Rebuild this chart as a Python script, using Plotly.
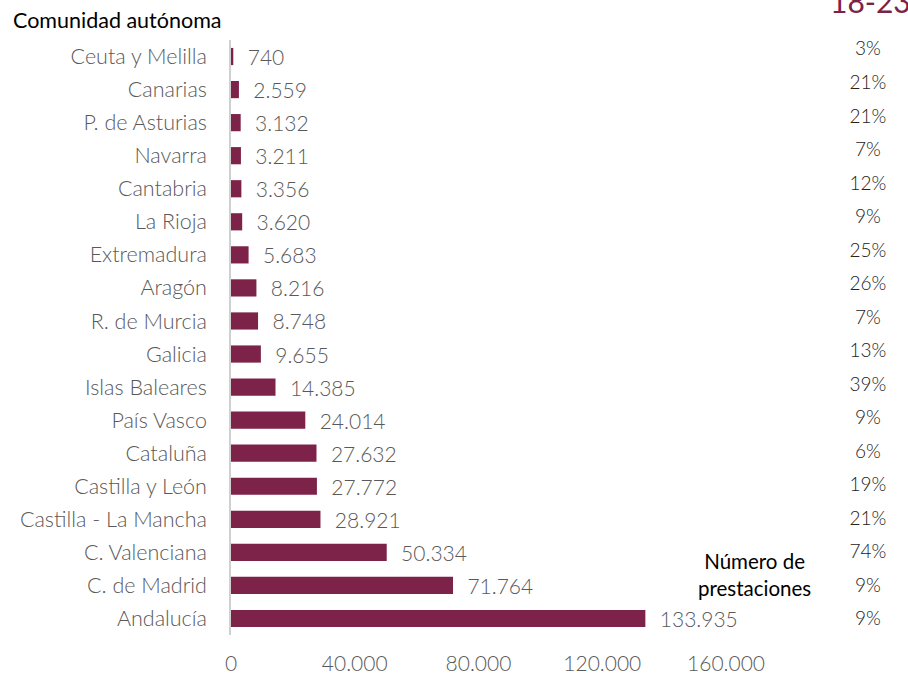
import plotly.graph_objects as go

comunidades = ["Ceuta y Melilla", "Canarias", "P. de Asturias", "Navarra", "Cantabria",
               "La Rioja", "Extremadura", "Aragón", "R. de Murcia", "Galicia",
               "Islas Baleares", "País Vasco", "Cataluña", "Castilla y León",
               "Castilla - La Mancha", "C. Valenciana", "C. de Madrid", "Andalucía"]
prestaciones = [740, 2559, 3132, 3211, 3356, 3620, 5683, 8216, 8748, 9655,
                14385, 24014, 27632, 27772, 28921, 50334, 71764, 133935]
variacion = ["3%", "21%", "21%", "7%", "12%", "9%", "25%", "26%", "7%", "13%",
             "39%", "9%", "6%", "19%", "21%", "74%", "9%", "9%"]
x_ticks = [0, 40000, 80000, 120000, 160000]

BAR = "#7D2248"
GRAY = "#595959"
FONT = "Lato"

def fmt(v):
    return f"{v:,}".replace(",", ".")

fig = go.Figure()
fig.add_trace(go.Bar(
    y=comunidades, x=prestaciones, orientation="h",
    marker=dict(color=BAR, line=dict(width=0)),
    text=["  " + fmt(v) for v in prestaciones], textposition="outside",
    constraintext="none",
    textfont=dict(family=FONT, size=21, color=GRAY, weight=300),
    cliponaxis=False, width=0.52, showlegend=False,
))
fig.add_trace(go.Scatter(
    x=[0.5] * len(variacion), y=comunidades, mode="text", text=variacion,
    textfont=dict(family=FONT, size=19, color="#222222", weight=300),
    xaxis="x2", yaxis="y2", showlegend=False, cliponaxis=False,
))

W, H = 908, 675
ml, mr, mt, mb = 231, 10, 40, 40
pw = W - ml - mr
ph = H - mt - mb

def px_x(p):
    return (p - ml) / pw

def px_y(p):
    return (H - mb - p) / ph

fig.update_layout(
    width=W, height=H, separators=",.",
    margin=dict(l=ml, r=mr, t=mt, b=mb),
    plot_bgcolor="white", paper_bgcolor="white",
    font=dict(family=FONT, color=GRAY),
    xaxis=dict(domain=[0, px_x(726)], range=[0, 160000], tickvals=x_ticks,
               tickformat=",d", showgrid=False, zeroline=False, showline=False,
               ticks="", automargin=False,
               tickfont=dict(family=FONT, size=21, color=GRAY, weight=300),
               ticklabelstandoff=14),
    yaxis=dict(autorange="reversed", showgrid=False, zeroline=False,
               showline=True, linecolor="#D0D0D0", linewidth=1.5, ticks="",
               automargin=False,
               tickfont=dict(family=FONT, size=21.5, color=GRAY, weight=300),
               ticklabelstandoff=18),
    xaxis2=dict(domain=[0.91, 1.0], range=[0, 1], visible=False, anchor="y2",
                automargin=False),
    yaxis2=dict(type="category", categoryarray=comunidades, categoryorder="array",
                range=[17.43, -0.32], visible=False, anchor="x2",
                automargin=False),
    annotations=[
        dict(text="Comunidad autónoma", xref="paper", yref="paper",
             x=px_x(11), y=px_y(20), xanchor="left", yanchor="middle",
             showarrow=False, font=dict(family=FONT, size=21.5, color="black")),
        dict(text="18-23", xref="paper", yref="paper",
             x=px_x(870), y=px_y(1), xanchor="center", yanchor="middle",
             showarrow=False, font=dict(family=FONT, size=30, color="#7B2249")),
        dict(text="Número de<br>prestaciones", xref="paper", yref="paper",
             x=px_x(754), y=px_y(574), xanchor="center", yanchor="middle",
             showarrow=False, align="center",
             font=dict(family=FONT, size=20.5, color="black")),
    ],
)

fig.write_html("out.html", config={"displayModeBar": False},
               post_script="document.body.style.margin='0';document.body.style.padding='0';")
